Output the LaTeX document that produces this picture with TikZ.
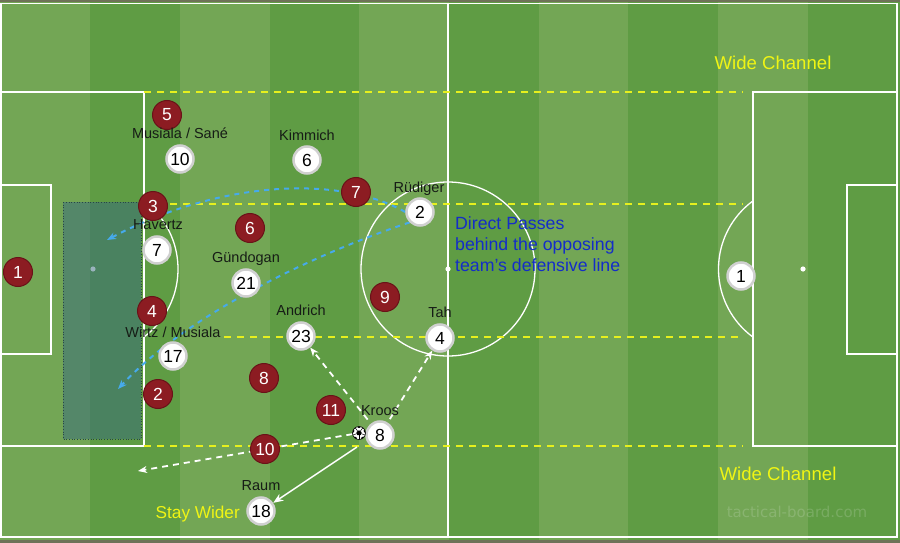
\documentclass[tikz,border=0pt]{standalone}
\usepackage{fontspec}
\setmainfont{Liberation Sans}
\newfontfamily\wmfont{DejaVu Sans}
\usetikzlibrary{arrows.meta,shapes.geometric}
\definecolor{edgeband}{RGB}{110,114,88}
\definecolor{lightg}{RGB}{115,166,85}
\definecolor{darkg}{RGB}{95,156,68}
\definecolor{ylw}{RGB}{230,240,30}
\definecolor{passblue}{RGB}{70,170,235}
\definecolor{txtblue}{RGB}{20,45,200}
\definecolor{redfill}{RGB}{140,28,34}
\definecolor{reddark}{RGB}{105,18,24}
\definecolor{ringgray}{RGB}{208,208,208}
\definecolor{shadec}{RGB}{55,105,125}
\definecolor{dotc}{RGB}{40,70,70}
\definecolor{lblc}{RGB}{22,28,22}
\definecolor{txtylw}{RGB}{240,245,20}
\pgfdeclarelayer{bg}
\pgfsetlayers{bg,main}
\begin{document}
\begin{tikzpicture}[x=1pt,y=-1pt,
  pline/.style={white,line width=1.3pt},
  ydash/.style={ylw,line width=2pt,dash pattern=on 7pt off 6pt},
  bpass/.style={passblue,line width=2pt,dash pattern=on 5pt off 5pt,-{Stealth[length=9pt,width=7pt]}},
  wpass/.style={white,line width=1.8pt,dash pattern=on 6pt off 5pt,-{Stealth[length=9pt,width=7pt]}},
  wsolid/.style={white,line width=1.5pt,-{Stealth[length=10pt,width=8pt]}},
  opp/.style={circle,fill=redfill,draw=reddark,line width=1pt,minimum size=29pt,inner sep=0pt,text=white,font=\fontsize{17.5}{17.5}\selectfont},
  own/.style={circle,fill=white,draw=ringgray,line width=2.5pt,minimum size=27pt,inner sep=0pt,text=black,font=\fontsize{17.5}{17.5}\selectfont},
  lbl/.style={text=lblc,font=\fontsize{14.5}{14.5}\selectfont,inner sep=0pt,anchor=base},
  ylbl/.style={text=txtylw,font=\fontsize{18.6}{18.6}\selectfont,inner sep=0pt,anchor=base},
  blbl/.style={text=txtblue,font=\fontsize{17.7}{17.7}\selectfont,inner sep=0pt,anchor=base west}
]
\useasboundingbox (0,0) rectangle (900,543);
\begin{pgfonlayer}{bg}
\fill[edgeband] (0,0) rectangle (900,543);
\foreach \a/\b/\c in {0/90/lightg,90/180/darkg,180/270/lightg,270/359/darkg,359/448.5/lightg,448.5/538.5/darkg,538.5/628/lightg,628/718/darkg,718/808/lightg,808/900/darkg}
  \fill[\c] (\a,2.5) rectangle (\b,539.5);
% pitch markings
\draw[pline] (1,3.5) rectangle (897,537);
\draw[pline] (448,3.5) -- (448,537);
\draw[pline] (448,269) circle[radius=87];
\fill[white] (448,269) circle[radius=2.6];
\draw[pline] (1,92) rectangle (144,446);
\draw[pline] (1,185) rectangle (51,354);
\fill[white] (93,269) circle[radius=2.6];
\begin{scope}
  \clip (144,0) rectangle (300,543);
  \draw[pline] (93,269) circle[radius=85];
\end{scope}
\draw[pline] (753,92) rectangle (897,446);
\draw[pline] (847,185) rectangle (897,354);
\fill[white] (803,269) circle[radius=2.6];
\begin{scope}
  \clip (600,0) rectangle (753,543);
  \draw[pline] (803,269) circle[radius=84.5];
\end{scope}
% shaded zone
\fill[shadec,opacity=0.5] (63,202) rectangle (141,439);
\draw[dotc,line width=0.7pt,dotted] (63,202) rectangle (141,439);
% wide-channel lines
\draw[ydash] (144,92) -- (743,92);
\draw[ydash] (144,204) -- (743,204);
\draw[ydash] (224,337) -- (743,337);
\draw[ydash] (144,446) -- (743,446);
\end{pgfonlayer}

% opponents
\node[opp] (r1) at (18,272) {1};
\node[opp] (r5) at (167,115) {5};
\node[opp] (r3) at (153,206) {3};
\node[opp] (r6) at (250,228) {6};
\node[opp] (r7) at (356,192) {7};
\node[opp] (r4) at (152,311) {4};
\node[opp] (r2) at (158,394) {2};
\node[opp] (r8) at (264,378) {8};
\node[opp] (r9) at (385,297) {9};
\node[opp] (r11) at (331,410) {11};
\node[opp] (r10) at (265,449) {10};

% own team
\node[own] (w10) at (180,159) {10};
\node[own] (w6) at (307,160) {6};
\node[own] (w7) at (157,250) {7};
\node[own] (w21) at (246,283) {21};
\node[own] (w2) at (420,212) {2};
\node[own] (w23) at (301,336) {23};
\node[own] (w4) at (440,338) {4};
\node[own] (w17) at (173,356) {17};
\node[own] (w8) at (380,435) {8};
\node[own] (w18) at (261,511) {18};
\node[own] (w1) at (741,276) {1};

% ball
\node[circle,fill=white,draw=black,line width=0.6pt,minimum size=13pt,inner sep=0pt] (ball) at (359,433) {};
\begin{scope}
  \clip (359,433) circle[radius=6.3];
  \node[regular polygon,regular polygon sides=5,fill=black,minimum size=5.5pt,inner sep=0pt] at (359,433) {};
  \foreach \ang in {90,162,234,306,18}{
    \draw[black,line width=0.5pt] (359,433) -- ++(\ang:7);
    \fill[black] (359,433) ++(\ang+36:7) circle[radius=2];
  }
\end{scope}

% labels
\node[lbl] (l1) at (180,139) {Musiala / Sané};
\node[lbl] (l2) at (307,140) {Kimmich};
\node[lbl] (l3) at (158,229) {Havertz};
\node[lbl] (l4) at (246,262) {Gündogan};
\node[lbl] (l5) at (419,192) {Rüdiger};
\node[lbl] (l6) at (301,315) {Andrich};
\node[lbl] (l7) at (440,317) {Tah};
\node[lbl] (l8) at (173,337) {Wirtz / Musiala};
\node[lbl] (l9) at (380,415) {Kroos};
\node[lbl] (l10) at (261,490) {Raum};

\node[ylbl] (wc1) at (773,70) {Wide Channel};
\node[ylbl] (wc2) at (778,480) {Wide Channel};
\node[ylbl,anchor=base east,font=\fontsize{17.2}{17.2}\selectfont] (sw) at (240,518) {Stay Wider};

\node[blbl] (d1) at (455,229.5) {Direct Passes};
\node[blbl] (d2) at (455,250.5) {behind the opposing};
\node[blbl] (d3) at (455,271.5) {team's defensive line};

\node[text=white,opacity=0.16,font=\wmfont\fontsize{15}{15}\selectfont,inner sep=0pt] (wm) at (797,512) {tactical-board.com};

% connectors (behind the players)
\coordinate (bt1) at (107,240);
\coordinate (bt2) at (118,389);
\coordinate (wt) at (138,471);
\coordinate (ks) at (357,447);
\begin{pgfonlayer}{bg}
\draw[bpass] (w2.west) .. controls (340,175) and (220,180) .. (bt1);
\draw[bpass] (w2.south west) .. controls (320,252) and (190,312) .. (bt2);
\draw[wpass,shorten <=5pt] (w8) -- (w23);
\draw[wpass,shorten <=4pt] (w8) -- (w4);
\draw[wpass] (ball) -- (wt);
\draw[wsolid] (ks) -- (w18);
\end{pgfonlayer}
\end{tikzpicture}
\end{document}
